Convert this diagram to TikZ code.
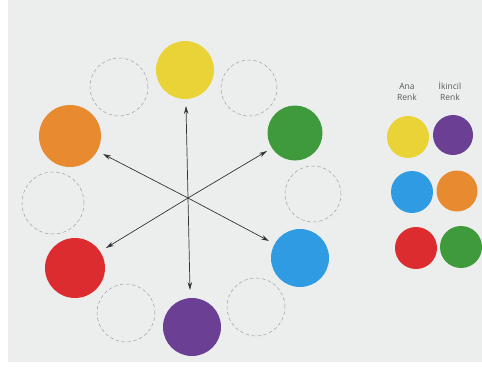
\documentclass[tikz,border=0pt]{standalone}
\usepackage{fontspec}
\setmainfont{Open Sans}
\usetikzlibrary{arrows.meta}
\definecolor{bg}{HTML}{ECEEED}
\definecolor{cyel}{HTML}{EAD337}
\definecolor{cgrn}{HTML}{3F9A3C}
\definecolor{cblu}{HTML}{2F9BE2}
\definecolor{cpur}{HTML}{6B3F93}
\definecolor{cred}{HTML}{DD2C30}
\definecolor{cora}{HTML}{E88A30}
\definecolor{arr}{HTML}{333333}
\tikzset{
  dot/.style={circle,inner sep=0pt,minimum size=#1},
  big/.style={dot=58pt},
  small/.style={dot=42pt},
  empty/.style={circle,inner sep=0pt,minimum size=58pt,draw=gray!75,dashed,line width=0.5pt,dash pattern=on 3.5pt off 2.5pt},
  ax/.style={draw=arr,line width=0.7pt,{Stealth[length=8pt,width=4.5pt]}-{Stealth[length=8pt,width=4.5pt]}},
  lbl/.style={font=\fontsize{8.5}{10.5}\selectfont,text=black!65,align=center}
}
\begin{document}
\begin{tikzpicture}[x=1pt,y=-1pt]
\fill[white] (0,0) rectangle (482,367);
\fill[bg] (8,0) rectangle (482,362);
\useasboundingbox (0,0) rectangle (482,367);
% wheel
\node[big,fill=cyel] (yel) at (185,70) {};
\node[big,fill=cgrn,minimum size=55pt] (grn) at (295,133) {};
\node[big,fill=cblu] (blu) at (300,258) {};
\node[big,fill=cpur] (pur) at (192,327) {};
\node[big,fill=cred,minimum size=60pt] (red) at (75,268) {};
\node[big,fill=cora,minimum size=62pt] (ora) at (70,136) {};
\node[empty] (e1) at (119,87) {};
\node[empty,minimum size=56pt] (e2) at (249,88) {};
\node[empty,minimum size=56pt] (e3) at (313,194) {};
\node[empty] (e4) at (256,307) {};
\node[empty] (e5) at (126,313) {};
\node[empty,minimum size=62pt] (e6) at (53,203) {};
% arrows
\coordinate (c) at (188,198);
\coordinate (tU) at (186,106);
\coordinate (tD) at (190,290);
\coordinate (tUL) at (103,154);
\coordinate (tLR) at (269,241);
\coordinate (tUR) at (267,151);
\coordinate (tLL) at (106,248);
\draw[ax] (tU) -- (c) -- (tD);
\draw[ax] (tUL) -- (c) -- (tLR);
\draw[ax] (tUR) -- (c) -- (tLL);
% legend
\node[lbl] (ana) at (407,92) {Ana\\Renk};
\node[lbl] (iki) at (450,91) {İkincil\\Renk};
\node[small,fill=cyel] (ly) at (408,137) {};
\node[small,fill=cpur,minimum size=40pt] (lp) at (453,135) {};
\node[small,fill=cblu] (lb) at (412,192) {};
\node[small,fill=cora,minimum size=41pt] (lo) at (457,191) {};
\node[small,fill=cred] (lr) at (416,248) {};
\node[small,fill=cgrn] (lg) at (461,247) {};
\end{tikzpicture}
\end{document}
